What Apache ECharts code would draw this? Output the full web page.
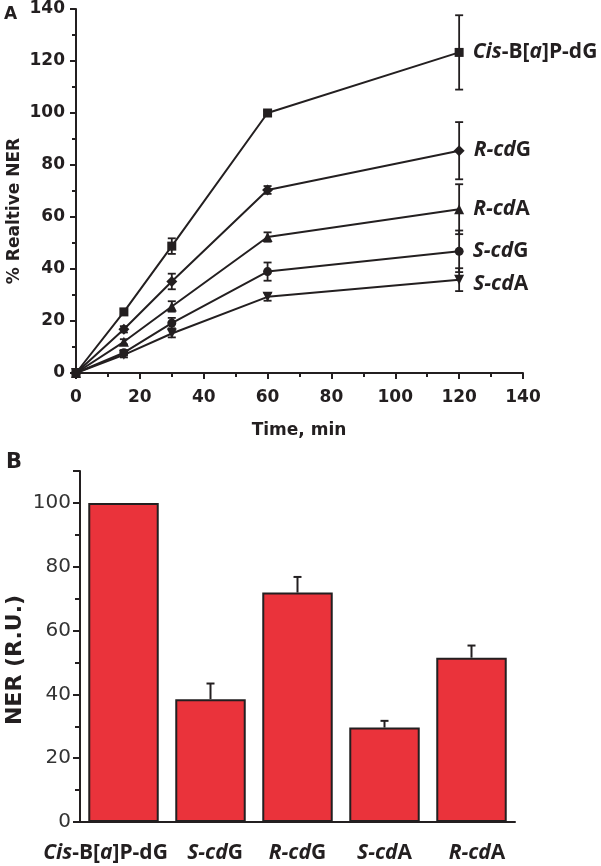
<!DOCTYPE html>
<html>
<head>
<meta charset="utf-8">
<script src="https://cdn.jsdelivr.net/npm/echarts@6/dist/echarts.min.js"></script>
<style>
html,body{margin:0;padding:0;background:#fff;}
#c{width:601px;height:866px;}
</style>
</head>
<body>
<div id="c"></div>
<script>
// ---- Panel A data ----
var times = [0, 15, 30, 60, 120];
var cisBaP = [0, 23.5, 48.8, 100, 123.3];
var cisBaPErr = [0, 1, 3, 0.8, 14.3];
var RcdG = [0, 16.8, 35.2, 70.4, 85.5];
var RcdGErr = [0, 1.2, 3, 1.5, 11];
var RcdA = [0, 12, 25.6, 52.3, 63];
var RcdAErr = [0, 1, 2, 1.8, 9.6];
var ScdG = [0, 7.8, 19.2, 39, 46.8];
var ScdGErr = [0, 1, 2, 3.5, 8];
var ScdA = [0, 7, 15.2, 29.3, 35.9];
var ScdAErr = [0, 1, 1.5, 1.5, 4.4];
var seriesNames = ['Cis-B[a]P-dG', 'R-cdG', 'R-cdA', 'S-cdG', 'S-cdA'];
var seriesLabels = [
  '{i|Cis}{n|-B[}{i|a}{n|]P-dG}',
  '{i|R-cd}{n|G}',
  '{i|R-cd}{n|A}',
  '{i|S-cd}{n|G}',
  '{i|S-cd}{n|A}'
];
// ---- Panel B data ----
var categories = ['Cis-B[a]P-dG', 'S-cdG', 'R-cdG', 'S-cdA', 'R-cdA'];
var categoryLabels = [
  '{i|Cis}{n|-B[}{i|a}{n|]P-dG}{sp36| }',
  '{sp9| }{i|S-cd}{n|G}',
  '{i|R-cd}{n|G}',
  '{i|S-cd}{n|A}',
  '{sp11| }{i|R-cd}{n|A}'
];
var nerValues = [100, 38.5, 71.9, 29.6, 51.5];
var nerErr = [0, 4.9, 4.9, 2.1, 3.8];

var lineValues = [cisBaP, RcdG, RcdA, ScdG, ScdA];
var lineErrs = [cisBaPErr, RcdGErr, RcdAErr, ScdGErr, ScdAErr];
var symbols = ['rect', 'diamond', 'triangle', 'circle', 'triangle'];
var symbolSizes = [9, 11, 10, 9, 10];
var symbolRot = [0, 0, 0, 0, 180];
var labelOffsets = [[0, 0], [0, -1], [0, 0], [0, 0], [0, 4]];

var richStyle = {
  i: {fontFamily: 'Open Sans', fontWeight: 'bold', fontStyle: 'italic', fontSize: 21, color: '#231f20'},
  n: {fontFamily: 'Open Sans', fontWeight: 'bold', fontStyle: 'normal', fontSize: 21, color: '#231f20'},
  sp36: {width: 36, fontSize: 21},
  sp9: {width: 9, fontSize: 21},
  sp11: {width: 11, fontSize: 21}
};

var series = [];
lineValues.forEach(function (vals, k) {
  var errs = lineErrs[k];
  series.push({
    type: 'custom',
    xAxisIndex: 0, yAxisIndex: 0,
    z: 1,
    silent: true,
    data: times.map(function (t, i) { return [t, vals[i], errs[i]]; }),
    renderItem: function (params, api) {
      var x = api.value(0), y = api.value(1), e = api.value(2);
      if (!e) return null;
      var top = api.coord([x, y + e]);
      var bot = api.coord([x, y - e]);
      var hw = 4;
      var st = {stroke: '#231f20', lineWidth: 1.8};
      return {
        type: 'group',
        children: [
          {type: 'line', shape: {x1: top[0], y1: top[1], x2: bot[0], y2: bot[1]}, style: st},
          {type: 'line', shape: {x1: top[0] - hw, y1: top[1], x2: top[0] + hw, y2: top[1]}, style: st},
          {type: 'line', shape: {x1: bot[0] - hw, y1: bot[1], x2: bot[0] + hw, y2: bot[1]}, style: st}
        ]
      };
    }
  });
  series.push({
    name: seriesNames[k],
    type: 'line',
    xAxisIndex: 0, yAxisIndex: 0,
    z: 3,
    symbol: symbols[k],
    symbolSize: symbolSizes[k],
    symbolRotate: symbolRot[k],
    showAllSymbol: true,
    lineStyle: {color: '#231f20', width: 2},
    itemStyle: {color: '#231f20'},
    animation: false,
    data: times.map(function (t, i) {
      var d = {value: [t, vals[i]]};
      if (i === times.length - 1) {
        d.label = {
          show: true, position: 'right', distance: 9,
          offset: labelOffsets[k],
          formatter: seriesLabels[k],
          rich: richStyle
        };
      }
      return d;
    })
  });
});

series.push({
  type: 'bar',
  xAxisIndex: 1, yAxisIndex: 1,
  data: nerValues,
  barCategoryGap: '19%',
  itemStyle: {color: '#ea333b', borderColor: '#231f20', borderWidth: 2},
  animation: false,
  z: 2
});
series.push({
  type: 'custom',
  xAxisIndex: 1, yAxisIndex: 1,
  z: 1,
  silent: true,
  data: nerValues.map(function (v, i) { return [i, v, nerErr[i]]; }),
  renderItem: function (params, api) {
    var i = api.value(0), v = api.value(1), e = api.value(2);
    if (!e) return null;
    var top = api.coord([i, v + e]);
    var bot = api.coord([i, v]);
    var hw = 4;
    var st = {stroke: '#231f20', lineWidth: 2};
    return {
      type: 'group',
      children: [
        {type: 'line', shape: {x1: top[0], y1: top[1], x2: bot[0], y2: bot[1]}, style: st},
        {type: 'line', shape: {x1: top[0] - hw, y1: top[1], x2: top[0] + hw, y2: top[1]}, style: st}
      ]
    };
  }
});

var axisCol = '#231f20';
var chart = echarts.init(document.getElementById('c'), null, {renderer: 'canvas'});
chart.setOption({
  animation: false,
  backgroundColor: '#ffffff',
  grid: [
    {left: 76, top: 9, width: 447, height: 364, containLabel: false},
    {left: 80, top: 471, width: 435, height: 351, containLabel: false}
  ],
  xAxis: [
    {
      type: 'value', gridIndex: 0, min: 0, max: 140, interval: 20,
      axisLine: {show: true, onZero: false, lineStyle: {color: axisCol, width: 2}},
      axisTick: {show: true, length: 6, lineStyle: {color: axisCol, width: 2}},
      minorTick: {show: true, splitNumber: 2, length: 4, lineStyle: {color: axisCol, width: 2}},
      splitLine: {show: false},
      axisLabel: {margin: 16, fontFamily: 'DejaVu Sans', fontWeight: 'bold', fontSize: 17, color: axisCol}
    },
    {
      type: 'category', gridIndex: 1, data: categories,
      axisLine: {show: true, lineStyle: {color: axisCol, width: 2}},
      axisTick: {show: false},
      splitLine: {show: false},
      axisLabel: {
        margin: 21, interval: 0,
        formatter: function (v, idx) { return categoryLabels[idx]; },
        rich: richStyle
      }
    }
  ],
  yAxis: [
    {
      type: 'value', gridIndex: 0, min: 0, max: 140, interval: 20,
      axisLine: {show: true, onZero: false, lineStyle: {color: axisCol, width: 2}},
      axisTick: {show: true, length: 6, lineStyle: {color: axisCol, width: 2}},
      minorTick: {show: true, splitNumber: 2, length: 4, lineStyle: {color: axisCol, width: 2}},
      splitLine: {show: false},
      axisLabel: {margin: 11, fontFamily: 'DejaVu Sans', fontWeight: 'bold', fontSize: 17, color: axisCol}
    },
    {
      type: 'value', gridIndex: 1, min: 0, max: 110, interval: 20,
      axisLine: {show: true, onZero: false, lineStyle: {color: axisCol, width: 2}},
      axisTick: {show: true, length: 7, lineStyle: {color: axisCol, width: 2}},
      minorTick: {show: true, splitNumber: 2, length: 5, lineStyle: {color: axisCol, width: 2}},
      splitLine: {show: false},
      axisLabel: {margin: 9, fontFamily: 'DejaVu Sans', fontWeight: 'normal', fontSize: 20, color: '#333',
        formatter: function (v) { return v > 100 ? '' : String(v); }}
    }
  ],
  graphic: [
    {type: 'text', left: 4, top: 6, style: {text: 'A', fontFamily: 'DejaVu Sans', fontWeight: 'bold', fontSize: 17, fill: axisCol}},
    {type: 'text', left: 6, top: 452, style: {text: 'B', fontFamily: 'DejaVu Sans', fontWeight: 'bold', fontSize: 21, fill: axisCol}},
    {type: 'text', x: 15, y: 211, rotation: Math.PI / 2,
      style: {text: '% Realtive NER', fontFamily: 'DejaVu Sans', fontWeight: 'bold', fontSize: 17, fill: axisCol, align: 'center', verticalAlign: 'middle'}},
    {type: 'text', x: 299, y: 431,
      style: {text: 'Time, min', fontFamily: 'DejaVu Sans', fontWeight: 'bold', fontSize: 17, fill: axisCol, align: 'center', verticalAlign: 'middle'}},
    {type: 'text', x: 15, y: 660, rotation: Math.PI / 2,
      style: {text: 'NER (R.U.)', fontFamily: 'DejaVu Sans', fontWeight: 'bold', fontSize: 22, fill: axisCol, align: 'center', verticalAlign: 'middle'}}
  ],
  series: series
});
</script>
</body>
</html>
